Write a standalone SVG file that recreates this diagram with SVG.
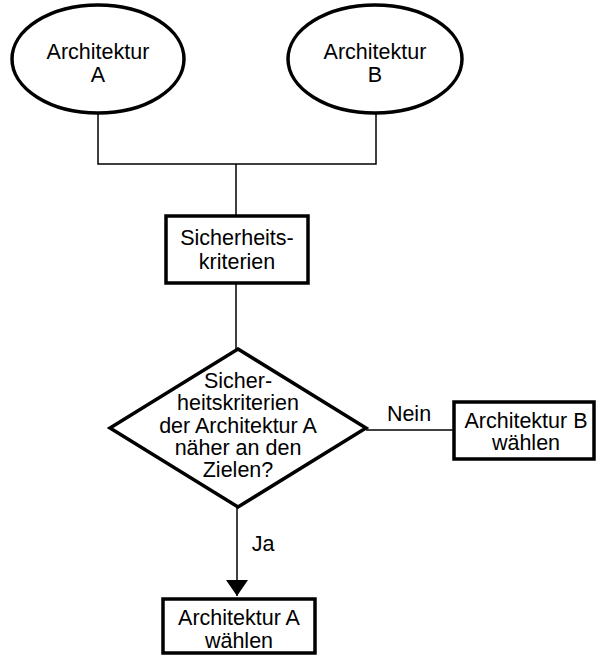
<svg xmlns="http://www.w3.org/2000/svg" width="597" height="657" viewBox="0 0 597 657">
  <style>
    .shape { fill: #fff; stroke: #000; stroke-width: 3.5; }
    .conn { fill: none; stroke: #000; stroke-width: 1.5; }
    text { font-family: "Liberation Sans", Arial, sans-serif; font-size: 21.5px; fill: #000; text-anchor: middle; }
  </style>
  <defs>
    <marker id="arrow" viewBox="0 0 16 22" refX="16" refY="11" markerWidth="16" markerHeight="22" markerUnits="userSpaceOnUse" orient="auto">
      <path d="M0,0 L16,11 L0,22 Z" fill="#000"/>
    </marker>
  </defs>

  <!-- connectors -->
  <g id="connectors">
    <polyline class="conn" points="98,113 98,164 376,164 376,113"/>
    <line class="conn" x1="236" y1="164" x2="236" y2="215"/>
    <line class="conn" x1="236" y1="284" x2="236" y2="349"/>
    <line class="conn" x1="366" y1="430" x2="453" y2="430"/>
    <line class="conn" x1="237" y1="507" x2="237" y2="596" marker-end="url(#arrow)"/>
    <text x="409" y="421">Nein</text>
    <text x="263" y="551">Ja</text>
  </g>

  <g id="arch-a">
    <ellipse class="shape" cx="98" cy="59" rx="86" ry="54"/>
    <text x="98" y="59">Architektur</text>
    <text x="98" y="82">A</text>
  </g>

  <g id="arch-b">
    <ellipse class="shape" cx="375" cy="59" rx="87" ry="54"/>
    <text x="375" y="59">Architektur</text>
    <text x="375" y="82">B</text>
  </g>

  <g id="criteria">
    <rect class="shape" x="166" y="216" width="142" height="67"/>
    <text x="237" y="245">Sicherheits-</text>
    <text x="237" y="269">kriterien</text>
  </g>

  <g id="decision">
    <polygon class="shape" points="238,349 366,428 238,507 110,428"/>
    <text x="238" y="388">Sicher-</text>
    <text x="238" y="410">heitskriterien</text>
    <text x="238" y="433">der Architektur A</text>
    <text x="238" y="455">näher an den</text>
    <text x="238" y="477">Zielen?</text>
  </g>

  <g id="choose-b">
    <rect class="shape" x="454" y="402" width="140" height="57"/>
    <text x="526" y="428">Architektur B</text>
    <text x="526" y="450">wählen</text>
  </g>

  <g id="choose-a">
    <rect class="shape" x="163" y="599" width="152" height="54"/>
    <text x="239" y="625">Architektur A</text>
    <text x="239" y="648">wählen</text>
  </g>
</svg>
